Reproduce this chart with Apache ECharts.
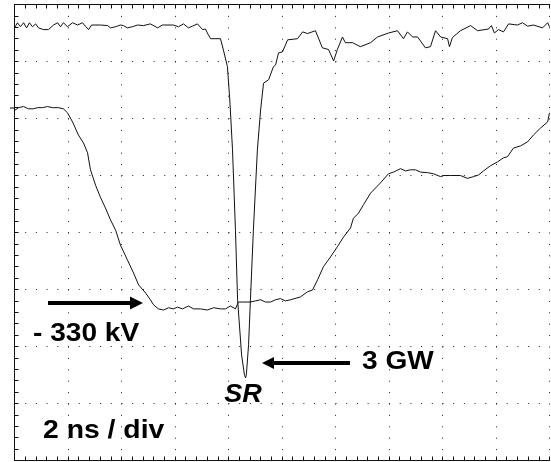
<!DOCTYPE html>
<html><head><meta charset="utf-8">
<script src="https://cdn.jsdelivr.net/npm/echarts@6/dist/echarts.min.js"></script>
<style>html,body{margin:0;padding:0;background:#fff}#c{width:551px;height:462px}</style>
</head><body><div id="c"></div>
<script>
// time in ns (2 ns / div), amplitude in screen divisions (0..8)
const powerT = [0,0.11,0.22,0.34,0.45,0.56,0.67,0.79,0.90,1.08,1.27,1.46,1.61,1.72,1.83,1.98,2.17,2.36,2.54,2.65,2.77,2.88,3.21,3.48,3.59,3.78,3.96,4.07,4.22,4.41,4.60,4.82,5.08,5.35,5.53,5.94,6.13,6.32,6.50,6.65,6.84,7.03,7.14,7.21,7.33,7.70,7.81,7.96,8.04,8.07,8.15,8.26,8.34,8.49,8.60,8.64,8.67,8.75,8.82,8.93,9.08,9.20,9.31,9.50,9.57,9.68,9.76,9.87,10.02,10.21,10.58,10.77,10.95,11.25,11.51,11.74,11.93,12.07,12.26,12.37,12.64,12.93,13.31,13.57,13.98,14.32,14.54,14.69,14.88,15.07,15.36,15.55,15.74,15.93,16.19,16.26,16.37,16.67,17.05,17.31,17.72,17.83,17.94,18.09,18.28,18.47,18.80,18.99,19.18,19.40,19.74,19.93,20.0];
const powerV = [7.59,7.68,7.61,7.68,7.59,7.68,7.61,7.66,7.59,7.56,7.56,7.64,7.68,7.61,7.68,7.61,7.68,7.64,7.68,7.62,7.56,7.64,7.64,7.63,7.59,7.61,7.64,7.63,7.59,7.61,7.64,7.63,7.66,7.59,7.64,7.64,7.61,7.66,7.59,7.62,7.66,7.56,7.57,7.50,7.40,7.40,7.20,6.91,6.38,6.15,5.45,4.04,2.82,1.85,1.49,1.45,1.52,2.03,2.82,4.04,5.45,6.15,6.62,6.68,6.71,6.91,6.94,7.15,7.17,7.38,7.40,7.52,7.49,7.54,7.24,7.21,7.01,7.21,7.43,7.33,7.33,7.26,7.33,7.43,7.50,7.54,7.40,7.52,7.43,7.43,7.24,7.26,7.54,7.43,7.40,7.26,7.42,7.54,7.63,7.54,7.57,7.63,7.50,7.56,7.52,7.66,7.64,7.68,7.62,7.64,7.59,7.68,7.61];
const voltT = [0,0.15,0.34,0.52,0.71,0.86,1.05,1.23,1.42,1.64,1.83,1.98,2.17,2.39,2.58,2.73,2.84,3.03,3.21,3.40,3.59,3.78,3.96,4.22,4.45,4.64,4.90,5.08,5.20,5.38,5.57,5.76,5.94,6.09,6.28,6.50,6.69,6.95,7.21,7.44,7.70,7.89,8.07,8.26,8.37,8.52,8.82,9.01,9.20,9.38,9.57,9.76,9.94,10.13,10.32,10.69,10.95,11.14,11.33,11.55,11.81,12.07,12.30,12.56,12.67,12.86,13.05,13.31,13.68,13.98,14.17,14.43,14.62,14.80,14.99,15.18,15.44,15.66,15.93,16.04,16.30,16.67,16.93,17.16,17.35,17.53,17.79,18.06,18.28,18.43,18.65,18.92,19.18,19.40,19.66,19.93,20.0];
const voltV = [6.14,6.19,6.21,6.17,6.17,6.19,6.19,6.21,6.19,6.19,6.17,6.10,5.94,5.71,5.57,5.40,5.10,4.83,4.62,4.43,4.22,4.04,3.78,3.52,3.29,3.08,2.94,2.82,2.73,2.66,2.64,2.68,2.66,2.69,2.66,2.71,2.66,2.66,2.64,2.68,2.66,2.66,2.71,2.66,2.78,2.78,2.78,2.80,2.82,2.78,2.78,2.82,2.84,2.80,2.82,2.87,2.96,2.99,3.17,3.40,3.57,3.75,3.92,4.08,4.25,4.34,4.49,4.69,4.87,5.03,5.06,5.12,5.08,5.10,5.10,5.06,5.05,5.03,4.98,5.00,5.00,5.00,4.95,4.98,5.01,5.08,5.17,5.24,5.31,5.33,5.48,5.52,5.59,5.71,5.83,5.94,6.10];
const labelVoltage = '- 330 kV';
const labelPower = '3 GW';
const labelSR = 'SR';
const labelScale = '2 ns / div';

const pair = (a, b) => a.map((x, i) => [x, b[i]]);
const chart = echarts.init(document.getElementById('c'), null, {renderer: 'canvas'});
const ink = '#111';
const tickCommon = {
  axisLine: {show: true, lineStyle: {color: ink, width: 1}},
  axisTick: {show: true, inside: true, length: 4, lineStyle: {color: ink}},
  minorTick: {show: true, splitNumber: 5, length: 4, lineStyle: {color: ink}},
  axisLabel: {show: false}
};
const font = 'bold 26px "Liberation Sans", Arial, sans-serif';
const label = (text, x, y, f, align, sx) => ({
  type: 'text', x: x, y: y, scaleX: sx, scaleY: 1,
  style: {text: text, x: 0, y: 0, font: f, fill: '#000', textAlign: align, textVerticalAlign: 'middle'}
});
chart.setOption({
  animation: false,
  backgroundColor: '#fff',
  grid: {left: 14.5, right: 1.5, top: 4.5, bottom: 1.5},
  xAxis: [
    Object.assign({type: 'value', min: 0, max: 20, interval: 2, position: 'bottom',
      splitLine: {show: true, lineStyle: {color: '#222', width: 1, type: [1, 10.4]}}}, tickCommon),
    Object.assign({type: 'value', min: 0, max: 20, interval: 2, position: 'top',
      splitLine: {show: false}}, tickCommon)
  ],
  yAxis: [
    Object.assign({type: 'value', min: 0, max: 8, interval: 1, position: 'left',
      splitLine: {show: true, lineStyle: {color: '#222', width: 1, type: [1, 9.7]}}}, tickCommon)
  ],
  series: [
    {type: 'line', data: pair(powerT, powerV), showSymbol: false, lineStyle: {color: ink, width: 1}},
    {type: 'line', data: pair(voltT, voltV), showSymbol: false, lineStyle: {color: ink, width: 1}}
  ],
  graphic: [
    {type: 'line', shape: {x1: 48, y1: 303, x2: 132, y2: 303}, style: {stroke: '#000', lineWidth: 4}},
    {type: 'polygon', shape: {points: [[130, 296.5], [143, 303], [130, 309.5]]}, style: {fill: '#000'}},
    {type: 'line', shape: {x1: 272, y1: 363, x2: 350, y2: 363}, style: {stroke: '#000', lineWidth: 4}},
    {type: 'polygon', shape: {points: [[274, 357], [262, 363], [274, 369]]}, style: {fill: '#000'}},
    {type: 'line', shape: {x1: 10, y1: 108, x2: 14, y2: 108}, style: {stroke: '#000', lineWidth: 1}},
    label(labelVoltage, 33, 334, font, 'left', 1.08),
    label(labelPower, 362, 362, font, 'left', 1.08),
    label(labelSR, 243, 395, 'italic ' + font, 'center', 1.04),
    label(labelScale, 43, 431, font, 'left', 1.09)
  ]
});
</script></body></html>
